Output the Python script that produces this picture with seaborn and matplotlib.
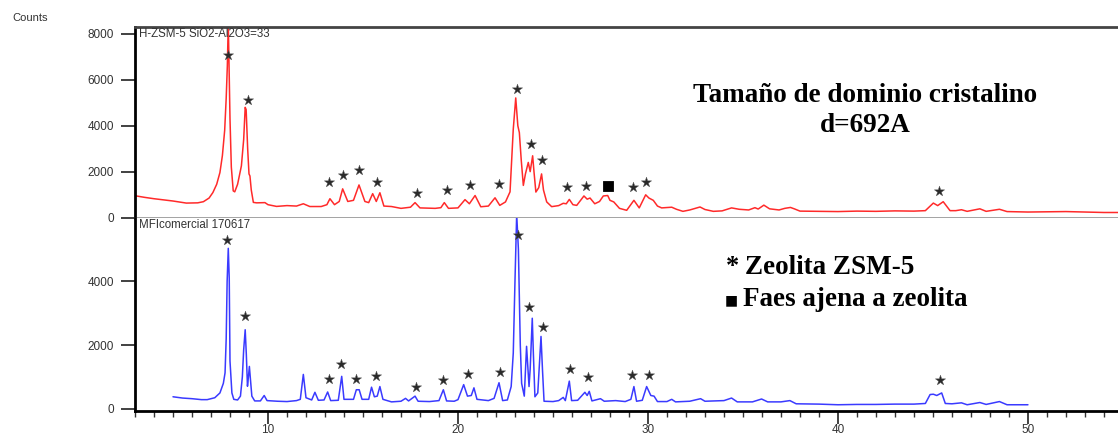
import numpy as np
import pandas as pd
import matplotlib
matplotlib.use("Agg")
import matplotlib.pyplot as plt
from matplotlib.ticker import MultipleLocator, FixedLocator
import seaborn as sns

# ---------------- data ----------------
red_theta = [3.0, 3.5, 4.0, 4.5, 5.0, 5.7, 6.3, 6.6, 6.9, 7.1, 7.3, 7.47, 7.6, 7.72, 7.8, 7.86, 7.91,
             7.96, 8.0, 8.07, 8.17, 8.25, 8.4, 8.6, 8.72, 8.8, 8.85, 8.93, 9.0, 9.05, 9.12, 9.23, 9.4,
             9.84, 10.0, 10.45, 11.0, 11.5, 11.86, 12.2, 12.8, 13.1, 13.26, 13.5, 13.75, 13.93, 14.2,
             14.5, 14.79, 15.1, 15.3, 15.51, 15.7, 15.89, 16.1, 16.5, 17.0, 17.5, 17.74, 18.0, 18.8,
             19.1, 19.28, 19.5, 20.0, 20.37, 20.6, 20.9, 21.2, 21.6, 21.95, 22.2, 22.5, 22.74, 22.91,
             23.04, 23.15, 23.23, 23.33, 23.44, 23.55, 23.7, 23.8, 23.93, 24.0, 24.1, 24.25, 24.4,
             24.5, 24.67, 24.93, 25.3, 25.54, 25.7, 25.86, 26.05, 26.25, 26.63, 26.8, 26.95, 27.2,
             27.45, 27.65, 27.88, 28.0, 28.2, 28.5, 28.88, 29.26, 29.54, 29.88, 30.05, 30.28, 30.5,
             30.72, 31.25, 31.5, 31.84, 32.2, 32.74, 33.0, 33.44, 33.9, 34.4, 34.8, 35.3, 35.63, 35.8,
             36.1, 36.4, 36.9, 37.2, 37.5, 37.7, 38.0, 39.0, 40.0, 41.0, 42.0, 43.0, 44.0, 44.6, 45.02,
             45.25, 45.54, 45.9, 46.2, 46.5, 46.8, 47.47, 47.8, 48.5, 48.9, 50.0, 52.0, 54.0, 55.0]
red_counts = [950, 880, 820, 770, 720, 630, 640, 690, 850, 1090, 1450, 1960, 2700, 3800, 5200, 6600, 8500,
              6200, 4300, 2200, 1160, 1120, 1450, 2250, 3400, 4800, 4700, 3000, 1900, 1810, 1200, 660, 640,
              650, 560, 485, 520, 500, 600, 480, 480, 560, 820, 560, 700, 1250, 700,
              750, 1420, 700, 650, 1040, 700, 1080, 500, 480, 400, 450, 650, 420, 400,
              430, 650, 400, 420, 780, 600, 960, 470, 500, 860, 530, 680, 1120, 3850,
              5210, 4000, 3700, 2500, 1400, 1900, 2400, 2000, 2690, 2000, 1110, 1300, 1900,
              1200, 680, 475, 520, 620, 600, 790, 560, 530, 940, 800, 850, 600,
              700, 940, 960, 750, 680, 400, 315, 750, 420, 990, 850, 750, 500,
              420, 450, 360, 270, 330, 460, 350, 270, 290, 420, 360, 330, 430, 370,
              540, 380, 330, 400, 440, 380, 280, 270, 260, 280, 270, 290, 280, 300, 630,
              520, 690, 300, 300, 340, 270, 380, 270, 360, 260, 240, 260, 220, 220]

blue_theta = [5.0, 5.5, 6.0, 6.5, 6.8, 7.2, 7.47, 7.65, 7.74, 7.8, 7.85, 7.91, 7.96, 8.0, 8.1, 8.2, 8.4,
              8.55, 8.65, 8.72, 8.8, 8.86, 8.92, 8.97, 9.02, 9.08, 9.15, 9.3, 9.6, 9.8, 9.95, 10.5, 11.0,
              11.5, 11.7, 11.86, 12.0, 12.3, 12.47, 12.65, 12.95, 13.14, 13.3, 13.7, 13.88, 14.0, 14.5,
              14.65, 14.8, 14.95, 15.3, 15.45, 15.6, 15.75, 15.89, 16.05, 16.5, 17.0, 17.24, 17.4,
              17.74, 17.9, 18.5, 19.0, 19.23, 19.4, 19.8, 20.0, 20.3, 20.5, 20.7, 20.84, 21.0, 21.6,
              21.9, 22.16, 22.35, 22.6, 22.8, 22.91, 23.0, 23.09, 23.18, 23.28, 23.35, 23.49, 23.55,
              23.61, 23.67, 23.74, 23.8, 23.91, 23.97, 24.05, 24.2, 24.37, 24.45, 24.53, 25.0, 25.3,
              25.54, 25.65, 25.86, 25.98, 26.3, 26.68, 26.8, 26.91, 27.05, 27.5, 27.7, 28.3, 28.8,
              29.1, 29.26, 29.4, 29.7, 29.93, 30.15, 30.32, 30.5, 31.0, 31.25, 31.45, 32.2, 32.77,
              33.0, 34.0, 34.4, 34.7, 35.5, 35.98, 36.3, 37.0, 37.47, 37.8, 39.0, 40.0, 41.0, 42.0,
              43.0, 44.0, 44.6, 44.85, 45.02, 45.2, 45.46, 45.65, 46.0, 46.5, 46.8, 47.47, 47.8, 48.5,
              48.9, 50.0]
blue_counts = [380, 340, 320, 290, 290, 350, 500, 800, 1130, 2200, 4000, 5030, 4100, 1500, 500, 300, 280,
               400, 1000, 1850, 2480, 1700, 710, 1000, 1330, 900, 400, 250, 250, 420, 260, 240, 230,
               260, 300, 1080, 350, 280, 520, 270, 280, 530, 260, 270, 1020, 300, 300,
               600, 600, 300, 300, 680, 380, 400, 700, 300, 220, 240, 330, 250,
               400, 240, 230, 260, 600, 250, 240, 290, 760, 400, 420, 660, 300, 260,
               330, 820, 260, 280, 700, 1750, 4000, 6100, 5000, 2000, 800, 400, 1200,
               1960, 1400, 700, 1250, 2840, 1700, 380, 500, 2270, 1200, 240, 230, 260,
               360, 260, 870, 260, 270, 520, 420, 550, 250, 320, 240, 260, 230,
               300, 700, 240, 270, 700, 420, 400, 230, 230, 300, 220, 240, 320,
               240, 260, 340, 220, 220, 310, 220, 220, 260, 160, 150, 130, 140, 140,
               150, 150, 170, 450, 460, 420, 500, 170, 160, 190, 130, 200, 140, 230,
               130, 130]

star_top_theta = [7.91, 8.93, 13.21, 13.96, 14.8, 15.72, 17.83, 19.4, 20.63, 22.15, 23.09, 23.84,
                  24.43, 25.73, 26.74, 29.19, 29.88, 45.33]
star_top_counts = [7090, 5110, 1550, 1840, 2070, 1530, 1090, 1190, 1420, 1470, 5600, 3190,
                   2490, 1340, 1380, 1320, 1550, 1160]
star_bot_theta = [7.86, 8.79, 13.21, 13.83, 14.63, 15.68, 17.77, 19.19, 20.54, 22.21, 23.17, 23.75,
                  24.46, 25.9, 26.86, 29.14, 30.05, 45.37]
star_bot_counts = [5290, 2915, 940, 1415, 940, 1040, 700, 915, 1100, 1145, 5450, 3190,
                   2580, 1260, 1000, 1070, 1070, 915]
phase_theta = [27.88]
phase_counts = [1380]

top_yticks = [0, 2000, 4000, 6000, 8000]
bot_yticks = [0, 2000, 4000]
x_ticks = [10, 20, 30, 40, 50]

top_label = "H-ZSM-5 SiO2-Al2O3=33"
bot_label = "MFIcomercial 170617"
title_lines = ["Tamaño de dominio cristalino", "d=692A"]
legend_items = ["Zeolita ZSM-5", "Faes ajena a zeolita"]

# ---------------- drawing ----------------
sns.set_style("ticks")
plt.rcParams["font.family"] = ["Liberation Sans", "DejaVu Sans"]

W, H = 1118, 436
fig = plt.figure(figsize=(W / 100, H / 100), dpi=100)
left = 135 / W
ax1 = fig.add_axes([left, 1 - 218 / H, 1 - left, (218 - 27) / H])
ax2 = fig.add_axes([left, 1 - 410.5 / H, 1 - left, (410.5 - 218) / H], sharex=ax1)

red_df = pd.DataFrame({"theta": red_theta, "counts": red_counts})
blue_df = pd.DataFrame({"theta": blue_theta, "counts": blue_counts})
sns.lineplot(data=red_df, x="theta", y="counts", ax=ax1, color="#ff2a2a", lw=1.1,
             estimator=None, sort=False)
sns.lineplot(data=blue_df, x="theta", y="counts", ax=ax2, color="#3a3aff", lw=1.1,
             estimator=None, sort=False)

sns.scatterplot(x=star_top_theta, y=star_top_counts, ax=ax1, marker="*", s=60,
                color="#2a2a2a", edgecolor="#555555", linewidth=0.3, zorder=5)
sns.scatterplot(x=star_bot_theta, y=star_bot_counts, ax=ax2, marker="*", s=60,
                color="#2a2a2a", edgecolor="#555555", linewidth=0.3, zorder=5)
sns.scatterplot(x=phase_theta, y=phase_counts, ax=ax1, marker="s", s=55,
                color="black", edgecolor="black", zorder=5)

ax1.set_xlim(3.0, 54.74)
ax1.set_ylim(-20, 8300)
ax2.set_ylim(-50, 5980)

for ax in (ax1, ax2):
    ax.set_xlabel("")
    ax.set_ylabel("")
    ax.spines["right"].set_visible(False)
    ax.spines["left"].set_color("black")
    ax.spines["left"].set_linewidth(2.0)
    ax.tick_params(axis="y", direction="out", length=10, width=1.3, color="#333333",
                   labelsize=8.5, labelcolor="#333333", pad=5)

ax1.spines["top"].set_color("#444444")
ax1.spines["top"].set_linewidth(2.0)
ax1.spines["bottom"].set_color("#9a9a9a")
ax1.spines["bottom"].set_linewidth(2.0)
ax1.tick_params(axis="x", which="both", bottom=False, labelbottom=False)
ax1.yaxis.set_major_locator(FixedLocator(top_yticks))

ax2.spines["top"].set_visible(False)
ax2.spines["bottom"].set_color("black")
ax2.spines["bottom"].set_linewidth(2.0)
ax2.yaxis.set_major_locator(FixedLocator(bot_yticks))
ax2.xaxis.set_major_locator(FixedLocator(x_ticks))
ax2.xaxis.set_minor_locator(MultipleLocator(1))
ax2.tick_params(axis="x", which="major", direction="out", length=9, width=1.3, color="#333333",
                labelsize=8.5, labelcolor="#333333", pad=0.5)
ax2.tick_params(axis="x", which="minor", direction="out", length=4, width=1.0, color="#333333")

fig.text(12 / W, 1 - 18 / H, "Counts", ha="left", va="center", fontsize=8, color="#333333")
fig.text(139 / W, 1 - 34 / H, top_label, ha="left", va="center", fontsize=8.3, color="#333333")
fig.text(139 / W, 1 - 225 / H, bot_label, ha="left", va="center", fontsize=8.3, color="#333333")

serif = ["Liberation Serif", "DejaVu Serif"]
fig.text(865 / W, 1 - 95 / H, title_lines[0], ha="center", va="center", fontsize=19.5,
         fontweight="bold", family=serif, color="black")
fig.text(865 / W, 1 - 126 / H, title_lines[1], ha="center", va="center", fontsize=19.5,
         fontweight="bold", family=serif, color="black")

fig.text(733 / W, 1 - 266 / H, "*", ha="center", va="center", fontsize=19,
         fontweight="bold", family=serif, color="black")
fig.text(745 / W, 1 - 268 / H, legend_items[0], ha="left", va="center", fontsize=19.5,
         fontweight="bold", family=serif, color="black")
fig.text(731 / W, 1 - 300 / H, "■", ha="center", va="center", fontsize=10,
         family=["DejaVu Sans"], color="black")
fig.text(743 / W, 1 - 300 / H, legend_items[1], ha="left", va="center", fontsize=19.5,
         fontweight="bold", family=serif, color="black")

fig.savefig("out.png", dpi=100)
